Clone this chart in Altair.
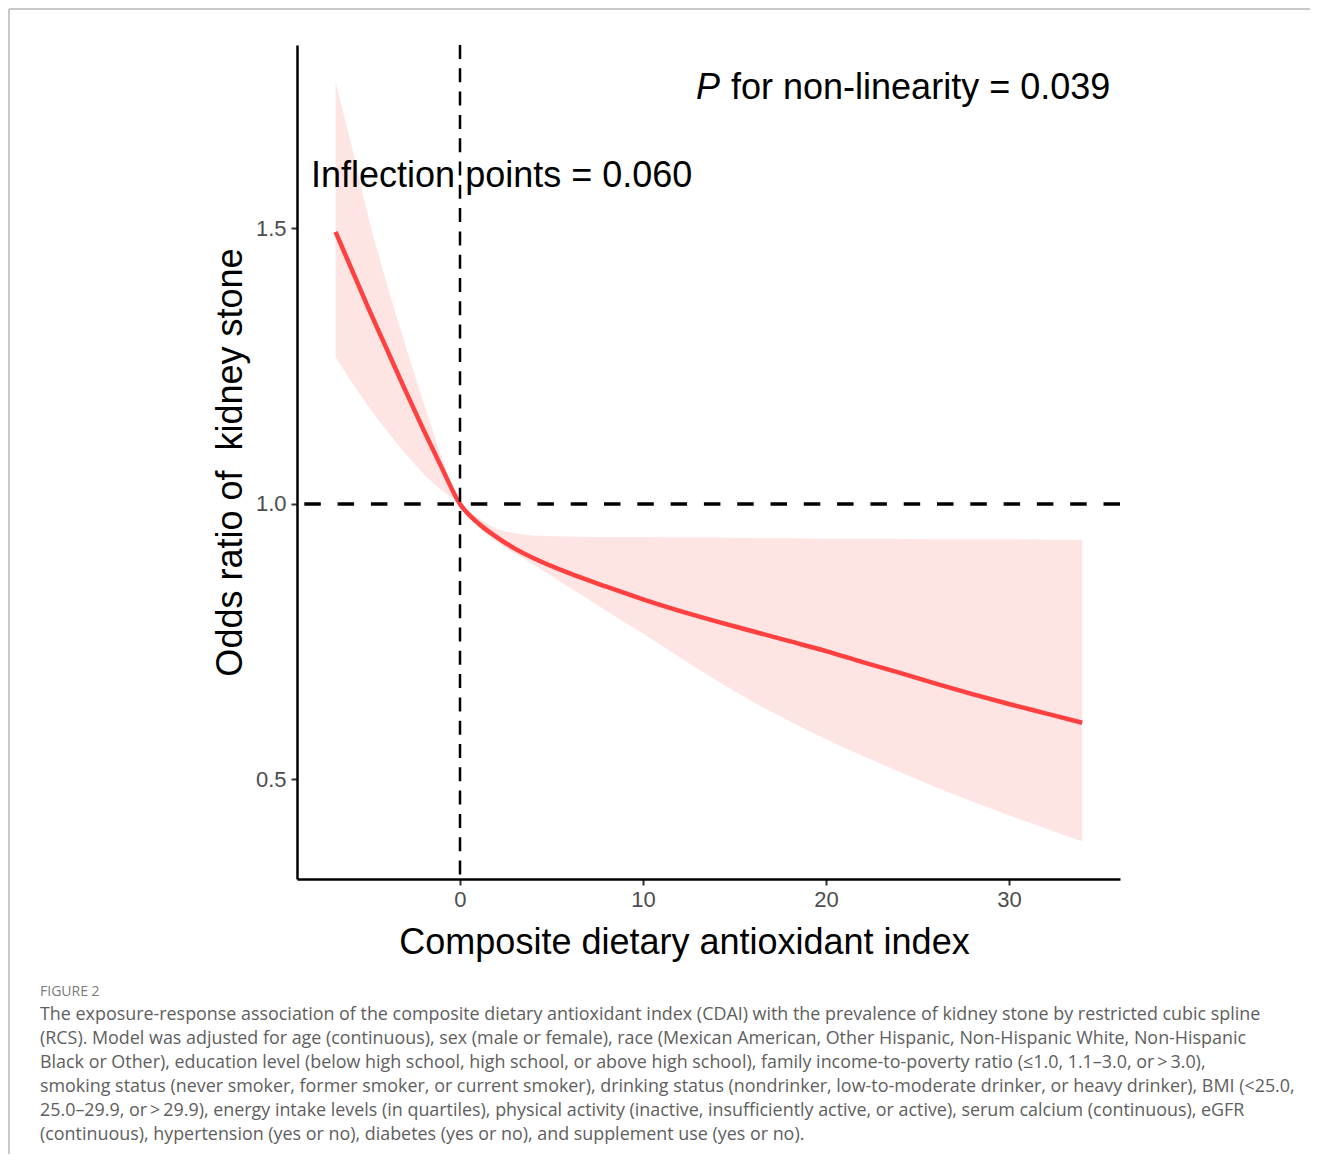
import altair as alt
import pandas as pd

# ---- data ----
cdai = [-6.8, -6, -5, -4, -3, -2, -1, 0, 1, 2, 3, 4, 6, 8, 10, 12, 14, 16, 18, 20, 22, 24, 26, 28, 30, 32, 34]
odds = [1.494, 1.432, 1.355, 1.281, 1.207, 1.135, 1.066, 1.0, 0.965, 0.940, 0.919, 0.902, 0.874, 0.850,
        0.827, 0.806, 0.787, 0.769, 0.751, 0.733, 0.713, 0.694, 0.674, 0.655, 0.637, 0.620, 0.603]
lower = [1.267, 1.225, 1.177, 1.133, 1.092, 1.055, 1.025, 1.0, 0.958, 0.932, 0.910, 0.890, 0.848, 0.806,
         0.765, 0.722, 0.680, 0.641, 0.606, 0.573, 0.543, 0.514, 0.486, 0.460, 0.435, 0.411, 0.388]
upper = [1.766, 1.66, 1.52, 1.40, 1.29, 1.185, 1.085, 1.0, 0.975, 0.955, 0.947, 0.943, 0.941, 0.940,
         0.940, 0.939, 0.939, 0.938, 0.938, 0.937, 0.937, 0.937, 0.936, 0.936, 0.936, 0.935, 0.935]

x_ticks = [0, 10, 20, 30]
y_ticks = [0.5, 1.0, 1.5]
ref_x = [0]
ref_y = [1.0]

x_title = "Composite dietary antioxidant index"
y_title = "Odds ratio of \u00a0kidney stone"

ann_inflect = "Inflection points = 0.060"
ann_p_italic = "P"
ann_p_rest = "for non-linearity = 0.039"

fig_label = "FIGURE 2"
caption_lines = [
    "The exposure-response association of the composite dietary antioxidant index (CDAI) with the prevalence of kidney stone by restricted cubic spline",
    "(RCS). Model was adjusted for age (continuous), sex (male or female), race (Mexican American, Other Hispanic, Non-Hispanic White, Non-Hispanic",
    "Black or Other), education level (below high school, high school, or above high school), family income-to-poverty ratio (\u22641.0, 1.1\u20133.0, or\u2009>\u20093.0),",
    "smoking status (never smoker, former smoker, or current smoker), drinking status (nondrinker, low-to-moderate drinker, or heavy drinker), BMI (<25.0,",
    "25.0\u201329.9, or\u2009>\u200929.9), energy intake levels (in quartiles), physical activity (inactive, insufficiently active, or active), serum calcium (continuous), eGFR",
    "(continuous), hypertension (yes or no), diabetes (yes or no), and supplement use (yes or no).",
]

df = pd.DataFrame({"cdai": cdai, "odds": odds, "lower": lower, "upper": upper})

FONT = "Liberation Sans"
W, H = 823, 834

xscale = alt.Scale(domain=[-8.907, 36.066], nice=False, zero=False)
yscale = alt.Scale(domain=[0.3194, 1.833], nice=False, zero=False)

x_axis = alt.Axis(
    values=x_ticks, format="d", title=x_title, grid=False,
    domainColor="black", domainWidth=2.5, tickColor="#333333", tickWidth=2, tickSize=6,
    labelFont=FONT, labelFontSize=22, labelColor="#4D4D4D", labelPadding=4,
    titleFont=FONT, titleFontSize=36, titleFontWeight="normal", titleColor="black",
    titleBaseline="alphabetic", titleX=387, titleY=74, titleAnchor="start", titleAlign="center",
)
y_axis = alt.Axis(
    values=y_ticks, format=".1f", title=y_title, grid=False,
    domainColor="black", domainWidth=2.5, tickColor="#333333", tickWidth=2, tickSize=6,
    labelFont=FONT, labelFontSize=22, labelColor="#4D4D4D", labelPadding=5,
    titleFont=FONT, titleFontSize=36, titleFontWeight="normal", titleColor="black",
    titleBaseline="alphabetic", titleX=-56, titleY=417, titleAngle=-90, titleAlign="center",
)

base = alt.Chart(df)

band = base.mark_area(color="#FFE4E4", opacity=1, interpolate="monotone").encode(
    x=alt.X("cdai:Q", scale=xscale, axis=x_axis),
    y=alt.Y("lower:Q", scale=yscale, axis=y_axis),
    y2="upper:Q",
)

curve = base.mark_line(color="#FF4040", strokeWidth=4.5, interpolate="monotone").encode(
    x=alt.X("cdai:Q", scale=xscale),
    y=alt.Y("odds:Q", scale=yscale),
)

vline = alt.Chart(pd.DataFrame({"v": ref_x})).mark_rule(
    color="black", strokeWidth=2.5, strokeDash=[14, 9.3]
).encode(x=alt.X("v:Q", scale=xscale))

hline = alt.Chart(pd.DataFrame({"h": ref_y})).mark_rule(
    color="black", strokeWidth=3.5, strokeDash=[16.5, 16.8]
).encode(y=alt.Y("h:Q", scale=yscale))

ann_df = pd.DataFrame({
    "x": [-8.14, 12.90, 14.81],
    "y": [1.5744, 1.735, 1.735],
    "t": [ann_inflect, ann_p_italic, ann_p_rest],
    "style": ["normal", "italic", "normal"],
})

ann_normal = alt.Chart(ann_df[ann_df["style"] == "normal"]).mark_text(
    font=FONT, fontSize=36, color="black", align="left", baseline="alphabetic"
).encode(x=alt.X("x:Q", scale=xscale), y=alt.Y("y:Q", scale=yscale), text="t:N")

ann_italic = alt.Chart(ann_df[ann_df["style"] == "italic"]).mark_text(
    font=FONT, fontSize=36, color="black", align="left", baseline="alphabetic", fontStyle="italic"
).encode(x=alt.X("x:Q", scale=xscale), y=alt.Y("y:Q", scale=yscale), text="t:N")

dummy = pd.DataFrame({"d": [0]})

fig_text = alt.Chart(dummy).mark_text(
    font="Open Sans", fontSize=14, color="#7A7A7A", align="left", baseline="alphabetic"
).encode(x=alt.value(40 - 297), y=alt.value(996 - 45), text=alt.value(fig_label))

caption = alt.Chart(dummy).mark_text(
    font="Open Sans", fontSize=17.9, color="#5E5E5E", align="left", baseline="alphabetic", lineHeight=24
).encode(x=alt.value(40 - 297), y=alt.value(1020 - 45), text=alt.value(caption_lines))

frame_top = alt.Chart(dummy).mark_rule(color="#C8C8C8", strokeWidth=2).encode(
    x=alt.value(9 - 297), x2=alt.value(1328 - 297), y=alt.value(9 - 45)
)
frame_left = alt.Chart(dummy).mark_rule(color="#C8C8C8", strokeWidth=2).encode(
    x=alt.value(9 - 297), y=alt.value(9 - 45), y2=alt.value(1170 - 45)
)

chart = alt.layer(
    band, curve, vline, hline, ann_normal, ann_italic, fig_text, caption, frame_top, frame_left
).properties(
    width=W, height=H,
    padding={"left": 289, "top": 37, "right": 190, "bottom": 275},
    autosize=alt.AutoSizeParams(type="none"),
).configure(
    background="white",
    view=alt.ViewConfig(stroke="transparent", strokeWidth=0),
)

chart.save("out.html", embed_options={"renderer": "svg", "actions": False})
